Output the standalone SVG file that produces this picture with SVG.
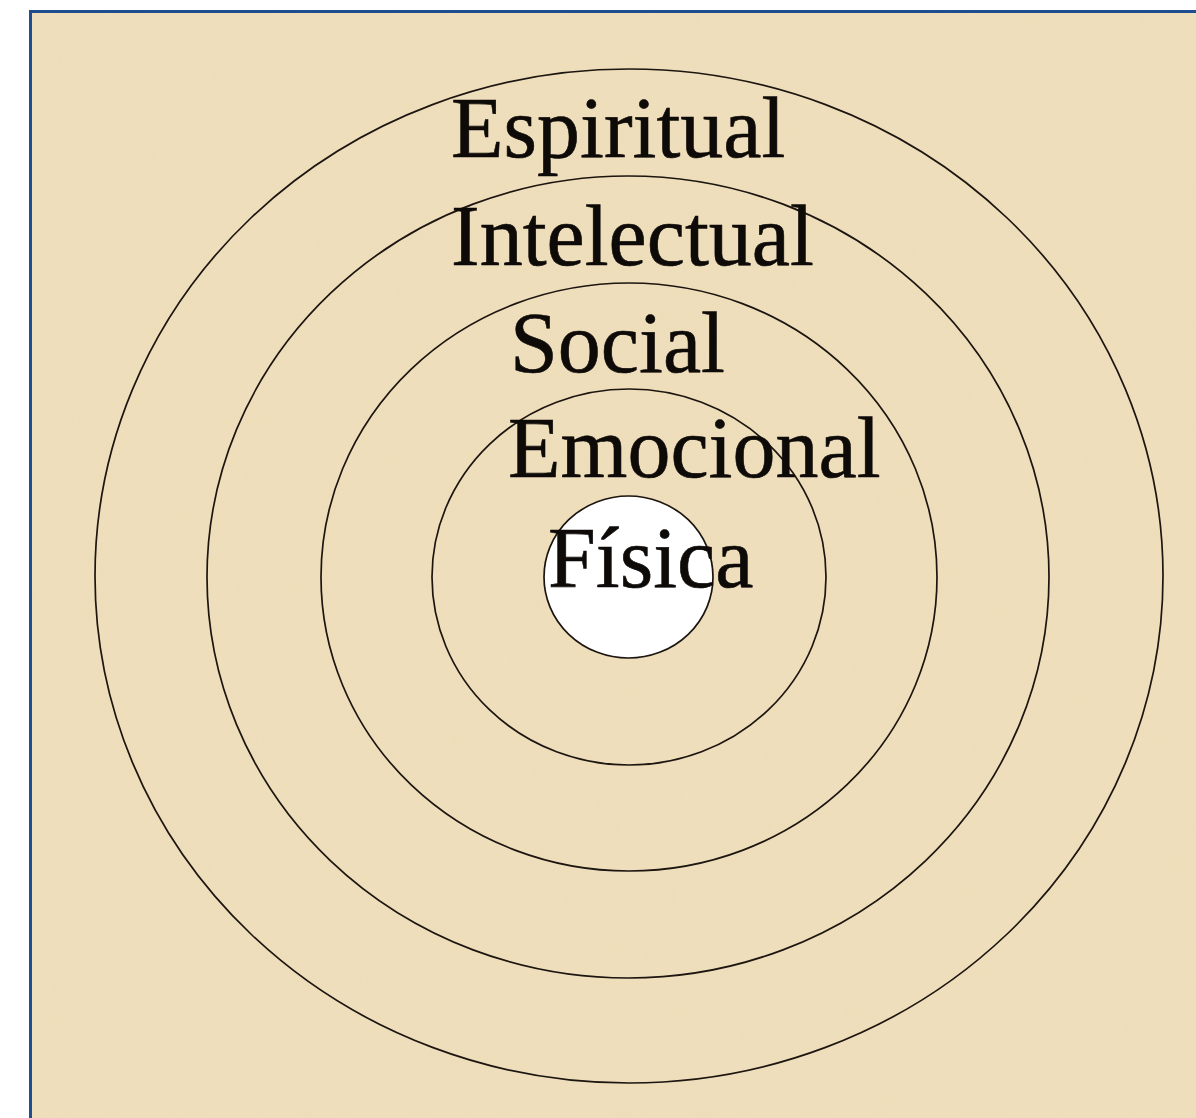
<svg xmlns="http://www.w3.org/2000/svg" width="1196" height="1118" viewBox="0 0 1196 1118">
  <defs>
    <filter id="paper" x="0" y="0" width="100%" height="100%">
      <feTurbulence type="fractalNoise" baseFrequency="0.025" numOctaves="4" seed="7" result="n"/>
      <feColorMatrix in="n" type="matrix" values="0 0 0 0 0.86  0 0 0 0 0.72  0 0 0 0 0.48  0 0 0 -1.6 0.95" result="c"/>
      <feComposite in="c" in2="SourceGraphic" operator="in"/>
    </filter>
    <style>
      .ring { fill: none; stroke: #1c1510; stroke-width: 1.7; }
      .core { fill: #ffffff; stroke: #1c1510; stroke-width: 1.7; }
      .lbl { font-family: "Liberation Serif", "Times New Roman", serif; font-size: 86px; fill: #0d0a08; stroke: #0d0a08; stroke-width: 0.6; }
    </style>
  </defs>
  <rect x="0" y="0" width="1196" height="1118" fill="#ffffff"/>
  <rect x="30" y="11" width="1166" height="1107" fill="#eedebb"/>
  <rect x="30" y="11" width="1166" height="1107" fill="#eedebb" filter="url(#paper)" opacity="0.6"/>
  <path d="M30.5 1118 V11.5 H1196" fill="none" stroke="#1f4e8f" stroke-width="3"/>

  <g id="connectors"></g>

  <g id="ring-espiritual">
    <ellipse class="ring" cx="629" cy="576" rx="534" ry="507"/>
    <text class="lbl" x="451" y="157">Espiritual</text>
  </g>
  <g id="ring-intelectual">
    <ellipse class="ring" cx="628" cy="577" rx="421" ry="401"/>
    <text class="lbl" x="451" y="265">Intelectual</text>
  </g>
  <g id="ring-social">
    <ellipse class="ring" cx="629" cy="577" rx="308" ry="294"/>
    <text class="lbl" x="510" y="372">Social</text>
  </g>
  <g id="ring-emocional">
    <ellipse class="ring" cx="629" cy="577" rx="197" ry="188"/>
    <text class="lbl" x="508" y="477">Emocional</text>
  </g>
  <g id="core-fisica">
    <ellipse class="core" cx="628.5" cy="577" rx="84.5" ry="81"/>
    <text class="lbl" x="548" y="587">Física</text>
  </g>
</svg>
